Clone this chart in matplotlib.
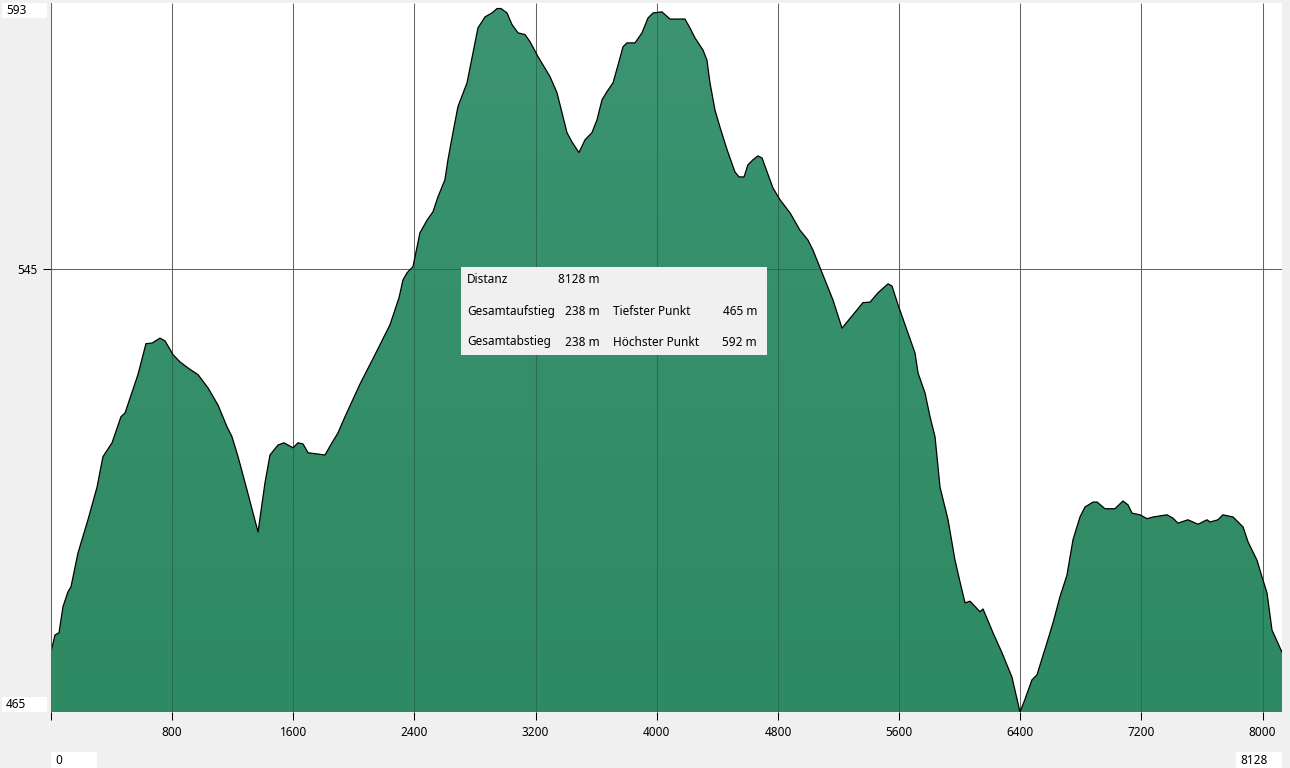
# Elevation profile (Höhenprofil) with summary box
import matplotlib.pyplot as plt
import matplotlib.colors as mcolors
from matplotlib.patches import Polygon, Rectangle
import numpy as np

# ── Data ────────────────────────────────────────────────────
distance = [0, 26, 53, 79, 112, 132, 178, 244, 304, 343, 403, 462, 489, 522,
            574, 627, 667, 720, 753, 806, 852, 905, 971, 1037, 1103, 1162,
            1195, 1235, 1294, 1367, 1413, 1446, 1499, 1538, 1598, 1631, 1664,
            1697, 1809, 1855, 1895, 1941, 2040, 2139, 2238, 2298, 2324, 2351,
            2390, 2436, 2483, 2522, 2555, 2601, 2621, 2654, 2687, 2747, 2786,
            2819, 2866, 2912, 2945, 2971, 3011, 3044, 3084, 3130, 3163, 3216,
            3295, 3341, 3374, 3407, 3440, 3486, 3526, 3572, 3605, 3638, 3671,
            3711, 3744, 3777, 3803, 3856, 3902, 3942, 3975, 4034, 4054, 4087,
            4186, 4219, 4252, 4305, 4331, 4351, 4384, 4417, 4464, 4516, 4543,
            4576, 4602, 4635, 4668, 4695, 4728, 4767, 4813, 4880, 4945, 4998,
            5031, 5078, 5144, 5163, 5223, 5295, 5361, 5408, 5461, 5527, 5553,
            5593, 5659, 5705, 5725, 5771, 5804, 5837, 5870, 5923, 5969, 6002,
            6035, 6068, 6134, 6154, 6220, 6279, 6345, 6398, 6431, 6477, 6510,
            6576, 6616, 6662, 6708, 6748, 6794, 6827, 6880, 6907, 6959, 7025,
            7078, 7111, 7138, 7190, 7237, 7276, 7369, 7408, 7441, 7507, 7573,
            7633, 7653, 7705, 7738, 7805, 7871, 7904, 7963, 7996, 8029, 8062,
            8128]
elevation = [475.8, 478.9, 479.3, 484.0, 486.7, 487.6, 493.7, 499.7, 505.6,
             511.1, 513.6, 518.3, 519.0, 521.7, 525.9, 531.5, 531.6, 532.5,
             532.0, 529.5, 528.2, 527.1, 525.9, 523.5, 520.4, 516.5, 514.7,
             511.1, 505.1, 497.5, 506.4, 511.4, 513.2, 513.6, 512.7, 513.6,
             513.4, 511.8, 511.4, 513.6, 515.4, 518.3, 524.2, 529.5, 534.9,
             539.8, 543.0, 544.3, 545.4, 551.5, 553.8, 555.3, 558.0, 561.1,
             564.7, 569.6, 574.3, 578.6, 584.0, 588.5, 590.5, 591.2, 592.0,
             592.0, 591.2, 589.1, 587.6, 587.3, 586.0, 583.3, 579.7, 576.8,
             573.2, 569.6, 567.9, 566.0, 568.3, 569.6, 571.9, 575.5, 577.0,
             578.6, 581.8, 585.1, 585.8, 585.8, 587.6, 590.3, 591.2, 591.4,
             590.9, 590.1, 590.1, 588.5, 586.7, 584.5, 582.7, 578.6, 573.7,
             570.6, 566.5, 562.5, 561.6, 561.6, 563.8, 564.7, 565.4, 565.0,
             562.5, 559.6, 557.5, 555.1, 552.0, 550.2, 548.4, 545.2, 540.7,
             539.4, 534.3, 536.7, 538.9, 539.0, 540.7, 542.3, 541.9, 538.5,
             533.4, 529.8, 526.2, 522.6, 518.3, 514.7, 505.6, 499.7, 492.4,
             488.5, 484.7, 485.0, 483.1, 483.6, 479.3, 475.7, 471.3, 465.0,
             467.3, 470.8, 471.7, 477.5, 481.1, 485.8, 489.7, 496.1, 500.2,
             502.0, 502.9, 502.9, 501.7, 501.7, 503.1, 502.4, 500.9, 500.6,
             499.9, 500.2, 500.6, 500.0, 499.1, 499.7, 498.9, 499.7, 499.3,
             499.7, 500.6, 500.2, 498.4, 495.7, 492.4, 489.4, 486.5, 479.8,
             475.8]

x_ticks = [0, 800, 1600, 2400, 3200, 4000, 4800, 5600, 6400, 7200, 8000]
x_tick_labels = ["", "800", "1600", "2400", "3200", "4000", "4800", "5600",
                 "6400", "7200", "8000"]
y_min, y_max = 465, 593
y_mid = 545
total_distance = 8128

stats_left = [("Distanz", "8128 m"), ("Gesamtaufstieg", "238 m"),
              ("Gesamtabstieg", "238 m")]
stats_right = [("", ""), ("Tiefster Punkt", "465 m"),
               ("Höchster Punkt", "592 m")]

# ── Figure ──────────────────────────────────────────────────
plt.rcParams["font.family"] = ["Noto Sans", "DejaVu Sans"]
W, H = 1290, 768
FS = 8.5
fig = plt.figure(figsize=(W / 100, H / 100), dpi=100)
fig.patch.set_facecolor("#f0f0f0")


def fx(px):
    return px / W


def fy(py):
    return 1 - py / H


ax = fig.add_axes([fx(51), fy(712), fx(1231), 709 / H])
ax.set_facecolor("white")
ax.set_xlim(0, total_distance)
ax.set_ylim(y_min, y_max)

# --- Grid lines (behind the profile) ---
grid_col = "#646464"
ax.vlines(x_ticks, y_min, y_max, colors=grid_col, linewidth=0.75, zorder=1)
ax.hlines(y_mid, 0, total_distance, colors=grid_col, linewidth=0.75, zorder=1)

# --- Profile area with vertical gradient ---
verts = list(zip(distance, elevation))
verts = [(distance[0], y_min)] + verts + [(distance[-1], y_min)]
clip = Polygon(verts, closed=True, facecolor="none", edgecolor="none")
ax.add_patch(clip)

cmap = mcolors.LinearSegmentedColormap.from_list("green", ["#2e8a62", "#3c9472"])
grad = np.linspace(0, 1, 256).reshape(-1, 1)
im = ax.imshow(grad, extent=[0, total_distance, y_min, y_max], origin="lower",
               aspect="auto", cmap=cmap, zorder=2, interpolation="bilinear")
im.set_clip_path(clip)

# --- Grid lines seen through the profile ---
over_col = "#2b6b50"
gl1 = ax.vlines(x_ticks, y_min, y_max, colors=over_col, linewidth=0.75, zorder=3)
gl2 = ax.hlines(y_mid, 0, total_distance, colors=over_col, linewidth=0.75, zorder=3)
gl1.set_clip_path(clip)
gl2.set_clip_path(clip)

# --- Outline ---
ax.plot(distance, elevation, color="black", linewidth=0.9, zorder=4)

# --- Axes styling ---
for s in ["top", "right", "bottom"]:
    ax.spines[s].set_visible(False)
ax.spines["left"].set_color(grid_col)
ax.spines["left"].set_linewidth(0.75)
ax.spines["left"].set_zorder(5)

ax.set_xticks(x_ticks)
ax.set_xticklabels(x_tick_labels)
ax.set_yticks([y_mid])
ax.set_yticklabels([str(y_mid)])
ax.tick_params(axis="both", direction="out", length=6, width=0.75,
               color="black", labelsize=FS, pad=4)

# --- Min / max boxes ---
boxes = [
    (2, 3, 45, 15, str(y_max)),
    (2, 697, 45, 15, str(y_min)),
    (51, 752, 46, 16, "0"),
    (1236, 752, 46, 16, str(total_distance)),
]
for bx, by, bw, bh, txt in boxes:
    fig.add_artist(Rectangle((fx(bx), fy(by + bh)), fx(bw), bh / H,
                             transform=fig.transFigure, facecolor="white",
                             edgecolor="none"))
    fig.text(fx(bx + 4), fy(by + bh / 2), txt, fontsize=FS,
             ha="left", va="center")

# --- Summary box ---
fig.add_artist(Rectangle((fx(461), fy(355)), fx(306), 88 / H,
                         transform=fig.transFigure, facecolor="#f0f0f0",
                         edgecolor="none", zorder=10))
row_y = [280, 311, 342]
for (l1, v1), (l2, v2), ry in zip(stats_left, stats_right, row_y):
    fig.text(fx(467), fy(ry), l1, fontsize=FS, ha="left", va="center", zorder=11)
    fig.text(fx(600), fy(ry), v1, fontsize=FS, ha="right", va="center", zorder=11)
    fig.text(fx(613), fy(ry), l2, fontsize=FS, ha="left", va="center", zorder=11)
    fig.text(fx(757), fy(ry), v2, fontsize=FS, ha="right", va="center", zorder=11)

fig.savefig("out.png", dpi=100, facecolor=fig.get_facecolor())
